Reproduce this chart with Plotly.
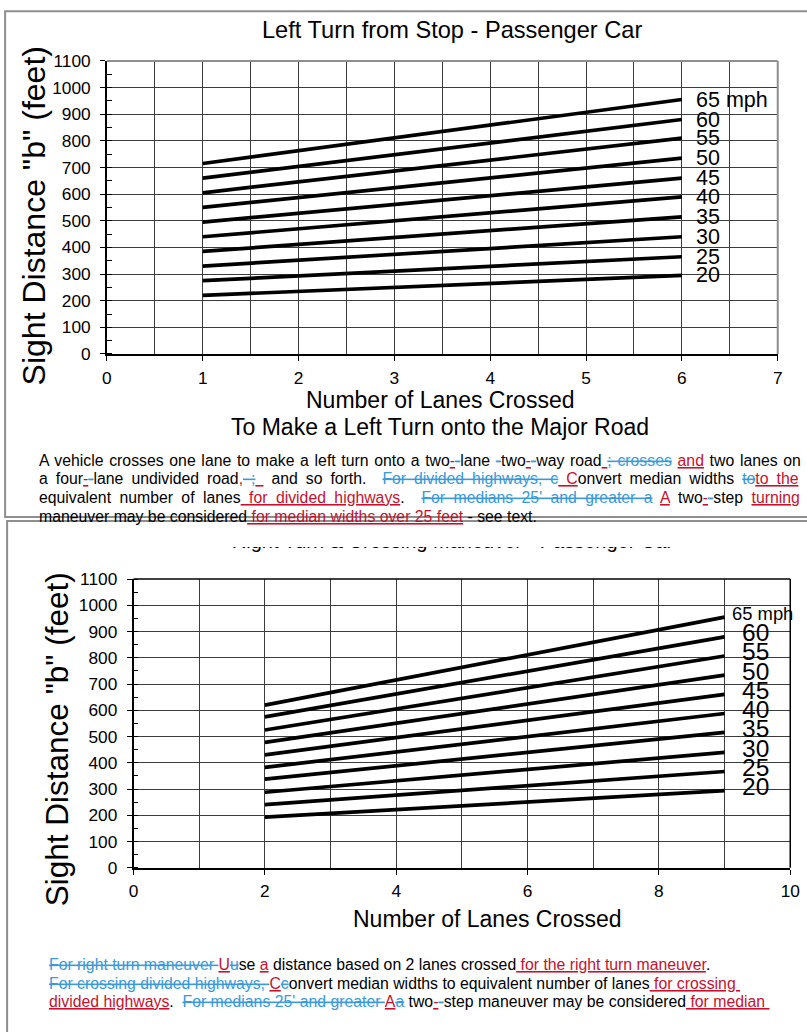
import plotly.graph_objects as go

# ---------------- data ----------------
speeds = ["65 mph", "60", "55", "50", "45", "40", "35", "30", "25", "20"]

left_lanes = [1, 6]
left_sd_start = [715, 660, 605, 550, 495, 440, 385, 330, 275, 220]
left_sd_end = [955, 880, 810, 735, 660, 590, 515, 440, 365, 295]

right_lanes = [2, 9]
right_sd_start = [620, 575, 525, 478, 430, 383, 338, 288, 241, 193]
right_sd_end = [955, 880, 807, 734, 661, 588, 516, 440, 367, 294]

title_top = "Left Turn from Stop - Passenger Car"
title_bottom = "Right Turn &amp; Crossing Maneuver - Passenger Car"
ytitle = 'Sight Distance "b" (feet)'
xtitle = "Number of Lanes Crossed"
xsub_top = "To Make a Left Turn onto the Major Road"

NB = "\u00a0"
top_par = [
    [("n", "A vehicle crosses one lane to make a left turn onto a two"), ("i", "-"), ("d", "-"),
     ("n", "lane "), ("d", "-"), ("n", "two"), ("i", "-"), ("d", "-"), ("n", "way road"),
     ("i", NB), ("d", "; crosses"), ("n", " "), ("i", "and"), ("n", " two lanes on")],
    [("n", "a four"), ("i", "-"), ("d", "-"), ("n", "lane undivided road"), ("i", ","),
     ("d", " ;"), ("i", NB), ("n", " and so forth." + NB + " "), ("d", "For divided highways, c"),
     ("i", NB + "C"), ("n", "onvert median widths "), ("d", "to"), ("i", "to the")],
    [("n", "equivalent number of lanes"), ("i", NB + "for divided highways"), ("n", "." + NB + " "),
     ("d", "For medians 25' and greater a"), ("n", " "), ("i", "A"), ("n", " two"), ("i", "-"),
     ("d", "-"), ("n", "step "), ("i", "turning")],
    [("n", "maneuver may be considered"), ("i", NB + "for median widths over 25 feet"),
     ("n", " - see text.")],
]
top_par_wordspacing = [1.3, 3.6, 4.0, 0]
bot_par = [
    [("d", "For right turn maneuver" + NB), ("i", "U"), ("d", "u"), ("n", "se "), ("i", "a"),
     ("n", " distance based on 2 lanes crossed"), ("i", NB + "for the right turn maneuver"), ("n", ".")],
    [("d", "For crossing divided highways," + NB), ("i", "C"), ("d", "c"),
     ("n", "onvert median widths to equivalent number of lanes"), ("i", NB + "for crossing" + NB)],
    [("i", "divided highways"), ("n", "." + NB + " "), ("d", "For medians 25' and greater" + NB),
     ("i", "A"), ("d", "a"), ("n", " two"), ("i", "-"), ("d", "-"),
     ("n", "step maneuver may be considered"), ("i", NB + "for median" + NB)],
]

# ---------------- style ----------------
W, H = 807, 1032
FONT = "Liberation Sans, Arial, sans-serif"
INS = "#c8102e"
DEL = "#3a9ad9"
GRID = "#3c3c3c"
BORDER = "#8e8e8e"
PFONT = 15.8
SX, SY, OFFX, OFFY = 0.9806, 0.9847, 5.0, 8.0   # photographed page -> picture mapping


def fx(t):
    """target picture x (px) -> paper fraction"""
    return (t / SX - OFFX) / W


def fy(t):
    """target picture y (px, from top) -> paper fraction"""
    return 1 - (t / SY - OFFY) / H


def seg_html(segs, ws=0):
    out = []
    for kind, txt in segs:
        wss = f"word-spacing:{ws}px" if ws else ""
        if kind == "n":
            out.append(f'<span style="{wss}">{txt}</span>' if wss else txt)
        elif kind == "i":
            out.append(f'<span style="color:{INS};text-decoration:underline;{wss}">{txt}</span>')
        else:
            out.append(f'<span style="color:{DEL};text-decoration:line-through;{wss}">{txt}</span>')
    return "".join(out)


fig = go.Figure()

for name, a, b in zip(speeds, left_sd_start, left_sd_end):
    fig.add_trace(go.Scatter(x=left_lanes, y=[a, b], mode="lines",
                             line=dict(color="black", width=3.7), xaxis="x", yaxis="y",
                             showlegend=False, hoverinfo="skip"))
for name, a, b in zip(speeds, right_sd_start, right_sd_end):
    fig.add_trace(go.Scatter(x=right_lanes, y=[a, b], mode="lines",
                             line=dict(color="black", width=3.7), xaxis="x2", yaxis="y2",
                             showlegend=False, hoverinfo="skip"))

# partially hidden title of the lower chart (clipped by a tiny invisible subplot)
fig.add_trace(go.Scatter(x=[fx(452)], y=[1.25], mode="text", text=[title_bottom],
                         textposition="middle center",
                         textfont=dict(family=FONT, size=20, color="black"),
                         xaxis="x3", yaxis="y3", cliponaxis=True, showlegend=False,
                         hoverinfo="skip"))

axis_common = dict(showline=True, linecolor="black", linewidth=1.5, zeroline=False,
                   showgrid=True, gridcolor=GRID, gridwidth=1, ticks="outside",
                   ticklen=5, tickcolor="black", tickwidth=1.2,
                   tickfont=dict(family=FONT, size=17.3, color="black"))

fig.update_layout(
    width=W, height=H, autosize=False,
    margin=dict(l=0, r=0, t=0, b=0, pad=0),
    paper_bgcolor="white", plot_bgcolor="white",
    showlegend=False,
    font=dict(family=FONT, color="black"),
    xaxis=dict(domain=[fx(106.7), fx(777)], range=[0, 7], dtick=1, anchor="y",
               minor=dict(dtick=0.5, showgrid=True, gridcolor=GRID, ticks=""),
               ticklabelstandoff=2, **axis_common),
    yaxis=dict(domain=[fy(353.3), fy(59)], range=[0, 1100], dtick=100, anchor="x",
               minor=dict(dtick=50, ticks="inside", ticklen=5, tickcolor="black", showgrid=False),
               ticklabelstandoff=6, **axis_common),
    xaxis2=dict(domain=[fx(133.3), fx(789.5)], range=[0, 10], dtick=2, anchor="y2",
                minor=dict(dtick=1, showgrid=True, gridcolor=GRID, ticks=""),
                ticklabelstandoff=2, **axis_common),
    yaxis2=dict(domain=[fy(869.3), fy(579.3)], range=[0, 1100], dtick=100, anchor="x2",
                minor=dict(dtick=50, ticks="inside", ticklen=5, tickcolor="black", showgrid=False),
                ticklabelstandoff=6, **axis_common),
    xaxis3=dict(domain=[0, 1], range=[0, 1], visible=False, anchor="y3"),
    yaxis3=dict(domain=[fy(562), fy(547)], range=[0, 1], visible=False, anchor="x3"),
)

shapes = [
    dict(type="rect", xref="paper", yref="paper", x0=fx(5), x1=1.05, y0=fy(517), y1=1 - 1.2 / H,
         line=dict(color=BORDER, width=2), layer="below"),
    dict(type="rect", xref="paper", yref="paper", x0=fx(7), x1=1.05, y0=-0.05, y1=fy(521),
         line=dict(color=BORDER, width=2), layer="below"),
    dict(type="line", xref="x domain", yref="y domain", x0=0, x1=1, y0=1, y1=1,
         line=dict(color=BORDER, width=2), layer="above"),
    dict(type="line", xref="x domain", yref="y domain", x0=1, x1=1, y0=0, y1=1,
         line=dict(color=BORDER, width=2), layer="above"),
    dict(type="line", xref="x2 domain", yref="y2 domain", x0=0, x1=1, y0=1, y1=1,
         line=dict(color="black", width=1.5), layer="above"),
    dict(type="line", xref="x2 domain", yref="y2 domain", x0=1, x1=1, y0=0, y1=1,
         line=dict(color="black", width=1.5), layer="above"),
]
fig.update_layout(shapes=shapes)

ann = []
for name, yv in zip(speeds, left_sd_end):
    ann.append(dict(x=6.13, y=yv, xref="x", yref="y", text=name, showarrow=False,
                    xanchor="left", yanchor="middle", font=dict(family=FONT, size=21.5, color="black")))
for name, yv in zip(speeds, right_sd_end):
    first = name.endswith("mph")
    ann.append(dict(x=9.09 if first else 9.24, y=yv, xref="x2", yref="y2", text=name, showarrow=False,
                    xanchor="left", yanchor="middle", yshift=4,
                    font=dict(family=FONT, size=18.4 if first else 24.5, color="black")))

ann.append(dict(x=fx(452), y=fy(28), xref="paper", yref="paper", text=title_top, showarrow=False,
                xanchor="center", yanchor="middle", font=dict(family=FONT, size=23.6, color="black")))
ann.append(dict(x=fx(34), y=fy(215), xref="paper", yref="paper", text=ytitle, showarrow=False,
                textangle=-90, xanchor="center", yanchor="middle",
                font=dict(family=FONT, size=32, color="black")))
ann.append(dict(x=fx(57), y=fy(740), xref="paper", yref="paper", text=ytitle, showarrow=False,
                textangle=-90, xanchor="center", yanchor="middle",
                font=dict(family=FONT, size=31.5, color="black")))
ann.append(dict(x=fx(440), y=fy(400), xref="paper", yref="paper", text=xtitle, showarrow=False,
                xanchor="center", yanchor="middle", font=dict(family=FONT, size=23, color="black")))
ann.append(dict(x=fx(440), y=fy(427), xref="paper", yref="paper", text=xsub_top, showarrow=False,
                xanchor="center", yanchor="middle", font=dict(family=FONT, size=23, color="black")))
ann.append(dict(x=fx(487), y=fy(921), xref="paper", yref="paper", text=xtitle, showarrow=False,
                xanchor="center", yanchor="middle", font=dict(family=FONT, size=23, color="black")))

for i, line in enumerate(top_par):
    ann.append(dict(x=fx(37), y=fy(460 + i * 18.7), xref="paper", yref="paper",
                    text=seg_html(line, top_par_wordspacing[i]), showarrow=False, xanchor="left",
                    yanchor="middle", align="left", font=dict(family=FONT, size=PFONT, color="black")))
for i, line in enumerate(bot_par):
    ann.append(dict(x=fx(47), y=fy(966 + i * 19), xref="paper", yref="paper",
                    text=seg_html(line), showarrow=False, xanchor="left", yanchor="middle",
                    align="left", font=dict(family=FONT, size=PFONT, color="black")))

fig.update_layout(annotations=ann)

fig.write_html("out.html")
